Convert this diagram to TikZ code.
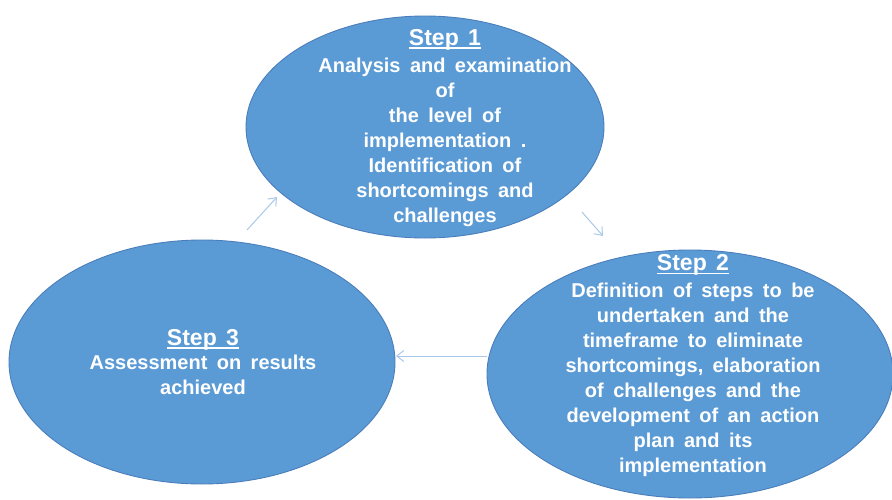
\documentclass[tikz,border=0pt]{standalone}
\usepackage{fontspec}
\setmainfont{Liberation Sans}
\usetikzlibrary{shapes.geometric,arrows.meta}
\definecolor{ellfill}{HTML}{5B9BD5}
\definecolor{elldraw}{HTML}{4A7EBB}
\definecolor{arrowcol}{HTML}{A9C8EA}
\newcommand\stephead[1]{{\fontsize{23}{25}\selectfont\setbox0\hbox{#1}\rlap{\rule[-3.5pt]{\wd0}{1.6pt}}\box0}}
\newcommand\widewords{\spaceskip=0.47em\relax}
\tikzset{
  stepell/.style={ellipse, fill=ellfill, draw=elldraw, line width=0.9pt, inner sep=0pt},
  steptext/.style={text=white, align=center, font=\bfseries\fontsize{20}{25}\selectfont, execute at begin node=\widewords, inner sep=0pt},
  flow/.style={draw=arrowcol, line width=1pt, -{Straight Barb[length=7pt,width=11pt]}}
}
\begin{document}
\begin{tikzpicture}[x=1pt,y=-1pt]
\useasboundingbox (0,0) rectangle (892,499);
\clip (0,0) rectangle (892,499);
\node[stepell, minimum width=358pt, minimum height=222pt] (e1) at (425,127) {};
\node[stepell, minimum width=406pt, minimum height=248pt] (e2) at (690,374) {};
\node[stepell, minimum width=386pt, minimum height=244pt] (e3) at (202,362) {};
\node[steptext] (t1) at (445,128) {\stephead{Step 1}\\[2pt]
Analysis and examination\\ of\\ the level of\\ implementation .\\ Identification of\\ shortcomings and\\ challenges};
\node[steptext] (t2) at (693,366) {\stephead{Step 2}\\[2pt]
Definition of steps to be\\ undertaken and the\\ timeframe to eliminate\\ shortcomings, elaboration\\ of challenges and the\\ development of an action\\ plan and its\\ implementation};
\node[steptext] (t3) at (203,362) {\stephead{Step 3}\\[-1pt]
Assessment on results\\ achieved};
\coordinate (a1s) at (247,230);
\coordinate (a1e) at (277,197);
\coordinate (a2s) at (582,212);
\coordinate (a2e) at (603,236);
\coordinate (a3s) at (487,356);
\coordinate (a3e) at (396,356);
\draw[flow] (a1s) -- (a1e);
\draw[flow] (a2s) -- (a2e);
\draw[flow] (a3s) -- (a3e);
\end{tikzpicture}
\end{document}
